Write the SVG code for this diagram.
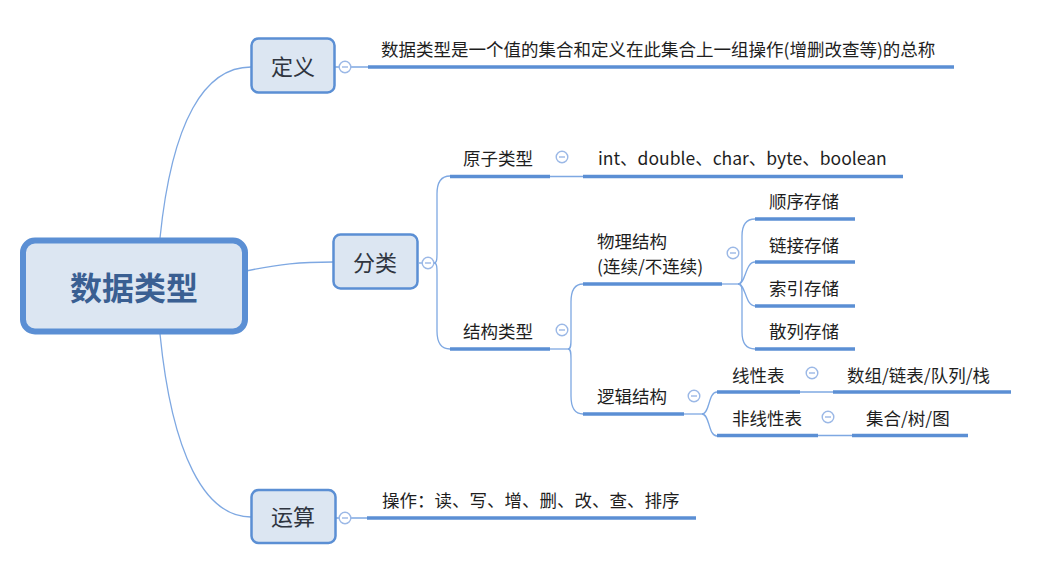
<svg xmlns="http://www.w3.org/2000/svg" width="1044" height="564" viewBox="0 0 1044 564">
<defs>
<style>
.bg{fill:#ffffff}
.box{fill:#dce6f2;stroke:#5b8fd4;stroke-width:2.5}
.rootbox{fill:#dce6f2;stroke:#5b8fd4;stroke-width:6}
.ln{fill:none;stroke:#7ea8e2;stroke-width:1.3}
.ul{stroke:#5b8fd4;stroke-width:3.6}
.cc{fill:#ffffff;stroke:#9bb8e6;stroke-width:1.4}
.cm{stroke:#9bb8e6;stroke-width:1.4}
.t{font-family:"Noto Sans CJK SC","Noto Sans",sans-serif;font-size:17.5px;fill:#1e1e1e}
.bt{font-family:"Noto Sans CJK SC","Noto Sans",sans-serif;font-size:22px;fill:#2f3540;text-anchor:middle}
.rt{font-family:"Noto Sans CJK SC","Noto Sans",sans-serif;font-size:32px;font-weight:bold;fill:#3a5f92;text-anchor:middle}
</style>
<g id="col">
<circle class="cc" cx="0" cy="0" r="5.8"/>
<line class="cm" x1="-3" y1="0" x2="3" y2="0"/>
</g>
</defs>
<rect class="bg" x="0" y="0" width="1044" height="564"/>

<g id="connectors">
<path class="ln" d="M160,238 C172,120 205,67 251,67"/>
<path class="ln" d="M246,271 C280,264 300,262 333,262"/>
<path class="ln" d="M160,334 C172,455 205,517 251,517"/>
<path class="ln" d="M335,67 L339,67 M351,67 L368,67"/>
<path class="ln" d="M419,263 L422,263"/>
<path class="ln" d="M434,263 C437,263 437,259 437,252 L437,194 C437,182 441,176 450,176"/>
<path class="ln" d="M434,263 C437,263 437,267 437,274 L437,331 C437,343 441,349 450,349"/>
<path class="ln" d="M550,176.5 L583,176.5"/>
<path class="ln" d="M550,349 L568,349"/>
<path class="ln" d="M568,349 C571,349 571,345 571,339 L571,302 C571,291 574,284 583,284"/>
<path class="ln" d="M568,349 C571,349 571,353 571,359 L571,396 C571,407 574,414 583,414"/>
<path class="ln" d="M722,284 L738,284"/>
<path class="ln" d="M738,284 C742,284 742,280 742,274 L742,236 C742,225 746,219 755,219"/>
<path class="ln" d="M738,284 C746,284 745,262 755,262"/>
<path class="ln" d="M738,284 C746,284 745,306 755,306"/>
<path class="ln" d="M738,284 C742,284 742,288 742,294 L742,332 C742,343 746,349 755,349"/>
<path class="ln" d="M684,414 L702,414"/>
<path class="ln" d="M702,414 C710,414 708,392 717,392"/>
<path class="ln" d="M702,414 C710,414 708,436 717,436"/>
<path class="ln" d="M800,392 L833,392"/>
<path class="ln" d="M818,435.5 L852,435.5"/>
<path class="ln" d="M336,518 L339,518 M351,518 L367,518"/>
</g>

<g id="root">
<rect class="rootbox" x="23" y="240.5" width="222" height="91" rx="12"/>
<text class="rt" x="134" y="300">数据类型</text>
</g>

<g id="node-dingyi">
<rect class="box" x="251.5" y="38.5" width="83" height="54" rx="7"/>
<text class="bt" x="293" y="75">定义</text>
<use href="#col" x="345" y="67"/>
</g>
<g id="node-dingyi-desc">
<line class="ul" x1="368" y1="67" x2="954" y2="67"/>
<text class="t" x="381" y="56">数据类型是一个值的集合和定义在此集合上一组操作(增删改查等)的总称</text>
</g>

<g id="node-fenlei">
<rect class="box" x="333.5" y="234.5" width="84" height="54" rx="7"/>
<text class="bt" x="375" y="271">分类</text>
<use href="#col" x="428" y="263"/>
</g>

<g id="node-yuanzi">
<line class="ul" x1="450" y1="176.5" x2="550" y2="176.5"/>
<text class="t" x="463" y="165">原子类型</text>
<use href="#col" x="562" y="157"/>
</g>
<g id="node-yuanzi-desc">
<line class="ul" x1="583" y1="176.5" x2="903" y2="176.5"/>
<text class="t" x="598" y="165">int、double、char、byte、boolean</text>
</g>

<g id="node-jiegou">
<line class="ul" x1="450" y1="349" x2="550" y2="349"/>
<text class="t" x="463" y="338">结构类型</text>
<use href="#col" x="562" y="330"/>
</g>

<g id="node-wuli">
<line class="ul" x1="583" y1="284" x2="722" y2="284"/>
<text class="t" x="597" y="248">物理结构</text>
<text class="t" x="597" y="273">(连续/不连续)</text>
<use href="#col" x="733" y="253"/>
</g>
<g id="node-shunxu">
<line class="ul" x1="755" y1="219" x2="855" y2="219"/>
<text class="t" x="769" y="208">顺序存储</text>
</g>
<g id="node-lianjie">
<line class="ul" x1="755" y1="262" x2="855" y2="262"/>
<text class="t" x="769" y="252">链接存储</text>
</g>
<g id="node-suoyin">
<line class="ul" x1="755" y1="306" x2="855" y2="306"/>
<text class="t" x="769" y="295">索引存储</text>
</g>
<g id="node-sanlie">
<line class="ul" x1="755" y1="349" x2="855" y2="349"/>
<text class="t" x="769" y="338">散列存储</text>
</g>

<g id="node-luoji">
<line class="ul" x1="583" y1="414" x2="684" y2="414"/>
<text class="t" x="597" y="403">逻辑结构</text>
<use href="#col" x="694" y="396"/>
</g>
<g id="node-xianxing">
<line class="ul" x1="717" y1="392" x2="800" y2="392"/>
<text class="t" x="732" y="382">线性表</text>
<use href="#col" x="812" y="373"/>
</g>
<g id="node-xianxing-desc">
<line class="ul" x1="833" y1="392" x2="1011" y2="392"/>
<text class="t" x="847" y="382">数组/链表/队列/栈</text>
</g>
<g id="node-feixianxing">
<line class="ul" x1="717" y1="435.5" x2="818" y2="435.5"/>
<text class="t" x="732" y="425">非线性表</text>
<use href="#col" x="828" y="417"/>
</g>
<g id="node-feixianxing-desc">
<line class="ul" x1="852" y1="435.5" x2="968" y2="435.5"/>
<text class="t" x="866" y="425">集合/树/图</text>
</g>

<g id="node-yunsuan">
<rect class="box" x="251.5" y="490" width="84" height="53" rx="7"/>
<text class="bt" x="293" y="525">运算</text>
<use href="#col" x="345" y="518"/>
</g>
<g id="node-yunsuan-desc">
<line class="ul" x1="367" y1="518" x2="696" y2="518"/>
<text class="t" x="382" y="507">操作：读、写、增、删、改、查、排序</text>
</g>
</svg>
